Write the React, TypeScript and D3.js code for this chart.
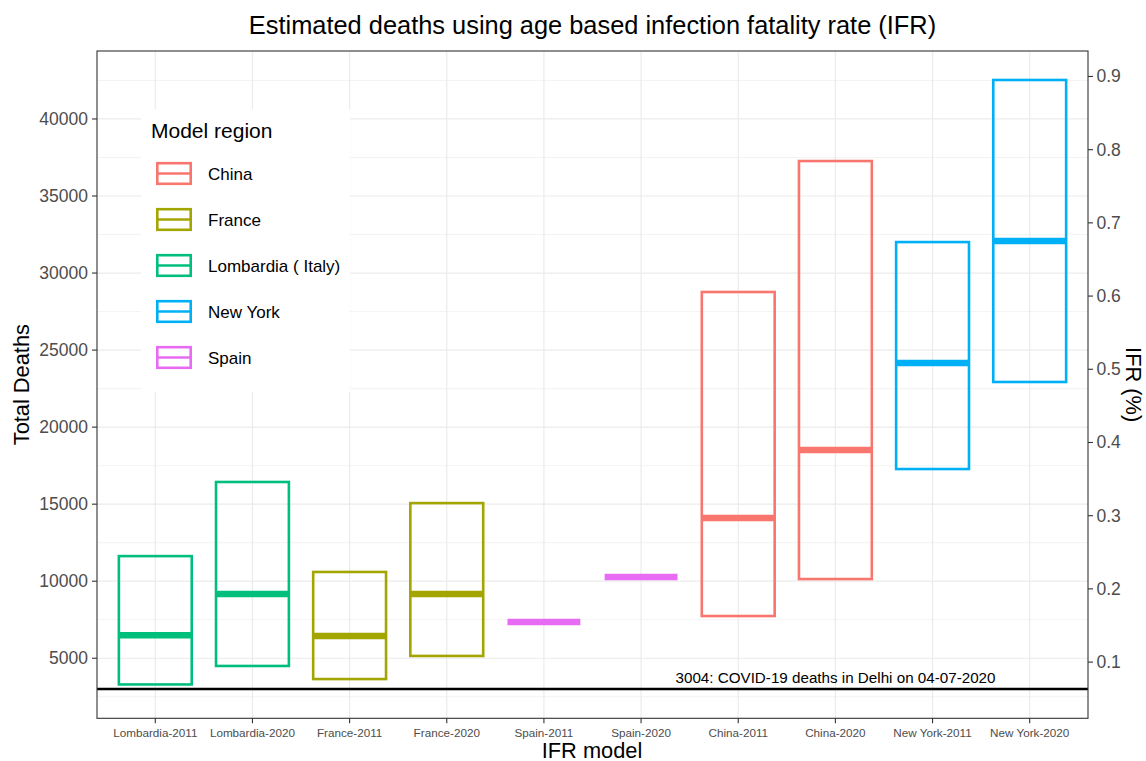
import React from 'react';
import * as d3 from 'd3';

// IFR model categories and estimated deaths (low / median / high)
const categories = [
  'Lombardia-2011', 'Lombardia-2020', 'France-2011', 'France-2020', 'Spain-2011',
  'Spain-2020', 'China-2011', 'China-2020', 'New York-2011', 'New York-2020',
];
const modelRegion = [
  'Lombardia ( Italy)', 'Lombardia ( Italy)', 'France', 'France', 'Spain',
  'Spain', 'China', 'China', 'New York', 'New York',
];
const lowDeaths = [3300, 4500, 3650, 5150, 7350, 10270, 7740, 10140, 17280, 22930];
const midDeaths = [6490, 9170, 6440, 9170, 7350, 10270, 14100, 18520, 24160, 32080];
const highDeaths = [11630, 16440, 10600, 15070, 7350, 10270, 28770, 37270, 32010, 42530];

const legendRegions = ['China', 'France', 'Lombardia ( Italy)', 'New York', 'Spain'];
const regionColors = ['#F8766D', '#A3A500', '#00BF7D', '#00B0F6', '#E76BF3'];

const leftTicks = [5000, 10000, 15000, 20000, 25000, 30000, 35000, 40000];
const rightTicks = [0.1, 0.2, 0.3, 0.4, 0.5, 0.6, 0.7, 0.8, 0.9];

const delhiDeaths = 3004;
const deathsPerIfrPercent = 47510;

const W = 1146;
const H = 761;
const panel = { left: 97, right: 1088, top: 51, bottom: 718.3 };
const font = '"Liberation Sans", Arial, Helvetica, sans-serif';

const App: React.FC = () => {
  const x = d3.scalePoint<string>()
    .domain(categories)
    .range([panel.left, panel.right])
    .padding(0.6);
  const step = x.step();
  const boxW = step * 0.75;

  const y = d3.scaleLinear().domain([1103, 44411]).range([panel.bottom, panel.top]);
  const yR = d3.scaleLinear()
    .domain(y.domain().map(d => d / deathsPerIfrPercent))
    .range([panel.bottom, panel.top]);

  const color = d3.scaleOrdinal<string, string>().domain(legendRegions).range(regionColors);

  const minorTicks = d3.range(2500, 45000, 5000);
  const axisText = '#4d4d4d';
  const grid = '#ebebeb';

  return (
    <svg width={W} height={H} style={{ position: 'fixed', left: 0, top: 0, background: '#fff' }}
      fontFamily={font}>
      <rect width={W} height={H} fill="#fff" />
      <text x={592.5} y={34} textAnchor="middle" fontSize={25.4} fill="#000">
        Estimated deaths using age based infection fatality rate (IFR)
      </text>

      {/* grid */}
      {minorTicks.map(t => (
        <line key={'mn' + t} x1={panel.left} x2={panel.right} y1={y(t)} y2={y(t)}
          stroke={grid} strokeWidth={0.6} />
      ))}
      {leftTicks.map(t => (
        <line key={'mj' + t} x1={panel.left} x2={panel.right} y1={y(t)} y2={y(t)}
          stroke={grid} strokeWidth={1.2} />
      ))}
      {categories.map(c => (
        <line key={'vg' + c} x1={x(c)} x2={x(c)} y1={panel.top} y2={panel.bottom}
          stroke={grid} strokeWidth={1.2} />
      ))}

      {/* crossbars */}
      {categories.map((c, i) => {
        const cx = x(c)!;
        const col = color(modelRegion[i]);
        return (
          <g key={'cb' + c}>
            <rect x={cx - boxW / 2} y={y(highDeaths[i])} width={boxW}
              height={y(lowDeaths[i]) - y(highDeaths[i])}
              fill="none" stroke={col} strokeWidth={2.6} />
            <line x1={cx - boxW / 2} x2={cx + boxW / 2} y1={y(midDeaths[i])} y2={y(midDeaths[i])}
              stroke={col} strokeWidth={6.5} />
          </g>
        );
      })}

      {/* Delhi reference line */}
      <line x1={panel.left} x2={panel.right} y1={y(delhiDeaths)} y2={y(delhiDeaths)}
        stroke="#000" strokeWidth={2.6} />
      <text x={835.5} y={y(delhiDeaths) - 6} textAnchor="middle" fontSize={15.2} fill="#000">
        {`${delhiDeaths}: COVID-19 deaths in Delhi on 04-07-2020`}
      </text>

      {/* legend */}
      <g>
        <rect x={141} y={109} width={209} height={283} fill="#fff" />
        <text x={151} y={138} fontSize={21} fill="#000">Model region</text>
        {legendRegions.map((r, i) => {
          const ky = 173.5 + i * 46;
          return (
            <g key={'lg' + r}>
              <rect x={157.3} y={ky - 10.3} width={33.4} height={20.6} fill="none"
                stroke={color(r)} strokeWidth={2.6} />
              <line x1={157.3} x2={190.7} y1={ky} y2={ky} stroke={color(r)} strokeWidth={2.6} />
              <text x={208} y={ky + 6} fontSize={17} fill="#000">{r}</text>
            </g>
          );
        })}
      </g>

      {/* panel border */}
      <rect x={panel.left} y={panel.top} width={panel.right - panel.left}
        height={panel.bottom - panel.top} fill="none" stroke="#333333" strokeWidth={1.1} />

      {/* left axis */}
      {leftTicks.map(t => (
        <g key={'lt' + t}>
          <line x1={panel.left - 5} x2={panel.left} y1={y(t)} y2={y(t)} stroke="#333333" strokeWidth={1.1} />
          <text x={panel.left - 9} y={y(t) + 6} textAnchor="end" fontSize={17.5} fill={axisText}>{t}</text>
        </g>
      ))}
      {/* right axis */}
      {rightTicks.map(t => (
        <g key={'rt' + t}>
          <line x1={panel.right} x2={panel.right + 5} y1={yR(t)} y2={yR(t)} stroke="#333333" strokeWidth={1.1} />
          <text x={panel.right + 8.5} y={yR(t) + 6} textAnchor="start" fontSize={17.5} fill={axisText}>
            {d3.format('.1f')(t)}
          </text>
        </g>
      ))}
      {/* bottom axis */}
      {categories.map(c => (
        <g key={'bt' + c}>
          <line x1={x(c)} x2={x(c)} y1={panel.bottom} y2={panel.bottom + 5} stroke="#333333" strokeWidth={1.1} />
          <text x={x(c)} y={737} textAnchor="middle" fontSize={11.7} fill={axisText}>{c}</text>
        </g>
      ))}

      {/* axis titles */}
      <text x={592} y={757.5} textAnchor="middle" fontSize={21.8} fill="#000">IFR model</text>
      <text transform={`translate(29, ${(panel.top + panel.bottom) / 2}) rotate(-90)`}
        textAnchor="middle" fontSize={21.8} fill="#000">Total Deaths</text>
      <text transform={`translate(1126, ${(panel.top + panel.bottom) / 2}) rotate(90)`}
        textAnchor="middle" fontSize={21.8} fill="#000">IFR (%)</text>
    </svg>
  );
};

export default App;
